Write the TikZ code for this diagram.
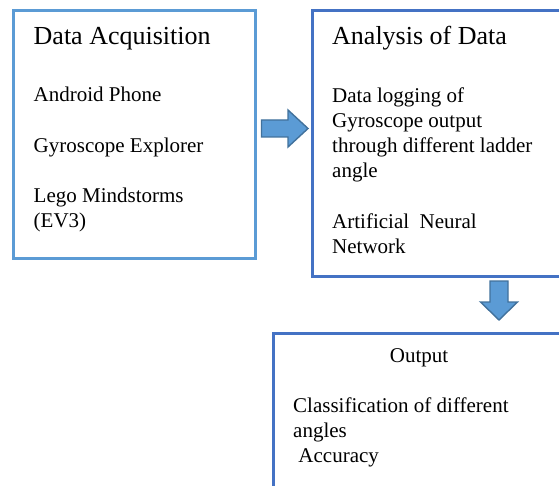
\documentclass[tikz,border=0pt]{standalone}
\usepackage{fontspec}
\setmainfont{Liberation Serif}
\usetikzlibrary{positioning, calc}
\definecolor{lightframe}{RGB}{91,155,213}
\definecolor{darkframe}{RGB}{68,114,196}
\definecolor{arrowfill}{RGB}{91,155,213}
\definecolor{arrowline}{RGB}{65,113,156}

\begin{document}
\begin{tikzpicture}[x=1pt, y=-1pt,
    stagebox/.style={draw, line width=3pt, fill=white, inner sep=0pt, anchor=north west},
    stagetext/.style={inner sep=0pt, anchor=north west, align=left, font=\fontsize{21}{25}\selectfont},
    blockarrow/.style={fill=arrowfill, draw=arrowline, line width=1.4pt, line join=miter}]
    % Canvas
    \useasboundingbox (0,0) rectangle (559,486);

    % Boxes
    \node[stagebox, draw=lightframe, minimum width=242pt, minimum height=247.5pt] (acq) at (12,9) {};
    \node[stagebox, draw=darkframe, minimum width=270pt, minimum height=266pt] (ana) at (310.5,9) {};
    \node[stagebox, draw=darkframe, minimum width=294pt, minimum height=200pt] (out) at (272,332) {};

    % Box texts
    \node[stagetext] (acqtext) at (33.5,27.2) {{\fontsize{26}{30}\selectfont Data Acquisition}\\[32pt]
        Android Phone\\[26pt]
        Gyroscope Explorer\\[25pt]
        Lego Mindstorms\\
        (EV3)};
    \node[stagetext] (anatext) at (332,26.2) {{\fontsize{26}{30}\selectfont Analysis of Data}\\[33pt]
        Data logging of\\
        Gyroscope output\\
        through different ladder\\
        angle\\[26pt]
        Artificial\ \ Neural\\
        Network};
    \node[inner sep=0pt, anchor=base, font=\fontsize{21}{25}\selectfont] (outtitle) at (419,362) {Output};
    \node[stagetext] (outtext) at (293,397.7) {Classification of different\\
        angles\\
        \ Accuracy};

    % Block arrows
    \coordinate (rarrow) at (261.5,128.5);
    \coordinate (darrow) at (499,281);
    \draw[blockarrow] (rarrow) ++(0,-8.5) -- ++(26.5,0) -- ++(0,-10) -- ++(20,18.5) -- ++(-20,18.5) -- ++(0,-10) -- ++(-26.5,0) -- cycle;
    \draw[blockarrow] (darrow) ++(-9,0) -- ++(0,21) -- ++(-9.5,0) -- ++(18.5,18) -- ++(18.5,-18) -- ++(-9.5,0) -- ++(0,-21) -- cycle;
\end{tikzpicture}
\end{document}
